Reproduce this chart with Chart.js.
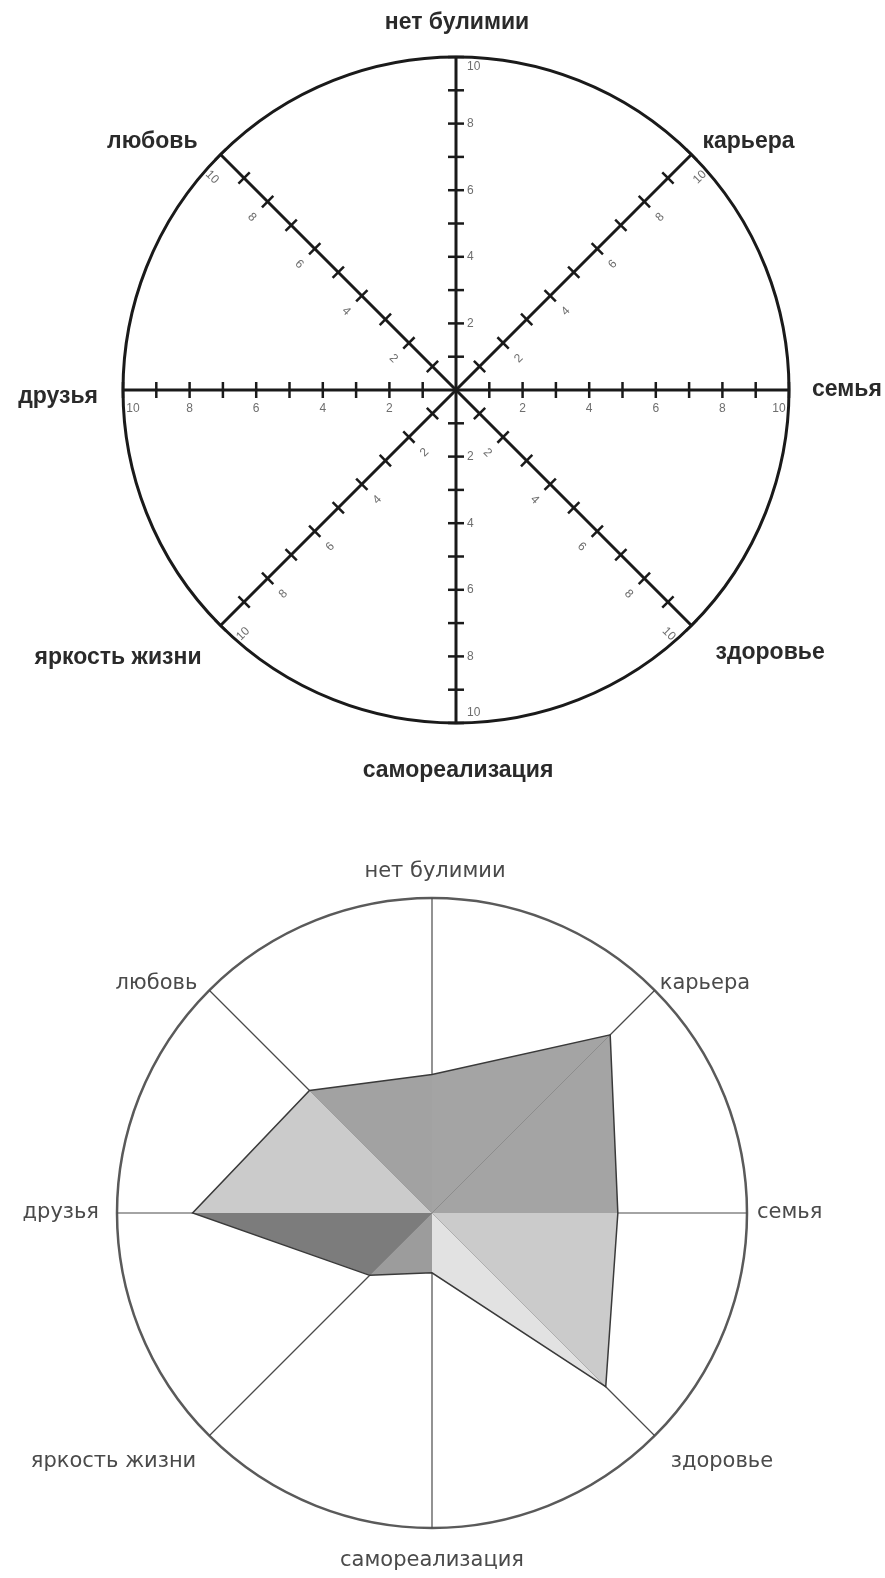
<!DOCTYPE html>
<html lang="ru">
<head>
<meta charset="utf-8">
<title>Колесо жизненного баланса</title>
<script src="https://cdn.jsdelivr.net/npm/chart.js@4.4.1/dist/chart.umd.min.js"></script>
<style>
  html, body { margin: 0; padding: 0; background: #fff; }
  body { width: 885px; height: 1578px; position: relative; overflow: hidden; }
  canvas { position: absolute; left: 0; }
  #koleso { top: 0; }
  #otsenka { top: 790px; }
</style>
</head>
<body>
<canvas id="koleso" width="885" height="790"></canvas>
<canvas id="otsenka" width="885" height="788"></canvas>
<script>
// сферы по часовой стрелке, начиная сверху
const sfery = ["нет булимии", "карьера", "семья", "здоровье", "самореализация", "яркость жизни", "друзья", "любовь"];

// шкала 0..10
const shkalaMin = 0;
const shkalaMax = 10;
const shtrikhi = [1, 2, 3, 4, 5, 6, 7, 8, 9, 10];
const podpisiShkaly = [2, 4, 6, 8, 10];

// оценки для нижнего колеса
const otsenki = [4.4, 8, 5.9, 7.8, 1.9, 2.8, 7.6, 5.5];

document.addEventListener("DOMContentLoaded", function () {
  const canvasKoleso = document.getElementById("koleso");
  const canvasOtsenka = document.getElementById("otsenka");

  if (!canvasKoleso || !canvasOtsenka) {
    return;
  }

  if (typeof Chart === "undefined") {
    console.error("Chart.js не загрузился.");
    return;
  }

  // цвета секторов: от оси i до оси i+1
  const tsvetaSektorov = ["#a4a4a4", "#a4a4a4", "#cbcbcb", "#e2e2e2", "#9c9c9c", "#7c7c7c", "#cbcbcb", "#a2a2a2"];

  const podpisiSfer = {
    id: "podpisiSfer",
    afterDraw(chart, args, opts) {
      const scale = chart.scales.r;
      const ctx = chart.ctx;
      ctx.save();
      ctx.font = opts.font;
      ctx.fillStyle = opts.color;
      ctx.textBaseline = "middle";
      chart.data.labels.forEach((text, i) => {
        const kray = scale.getPointPosition(i, scale.drawingArea);
        const sdvig = opts.sdvig[i];
        const cos = Math.cos(scale.getIndexAngle(i) - Math.PI / 2);
        ctx.textAlign = cos > 0.1 ? "left" : cos < -0.1 ? "right" : "center";
        ctx.fillText(text, kray.x + sdvig[0], kray.y + sdvig[1]);
      });
      ctx.restore();
    }
  };

  const shtrikhiOsey = {
    id: "shtrikhiOsey",
    afterDraw(chart, args, opts) {
      const scale = chart.scales.r;
      const ctx = chart.ctx;
      ctx.save();
      chart.data.labels.forEach((_, i) => {
        const a = scale.getIndexAngle(i) - Math.PI / 2;
        const dx = Math.cos(a);
        const dy = Math.sin(a);
        const nx = -dy;
        const ny = dx;

        ctx.strokeStyle = opts.color;
        ctx.lineWidth = opts.width;
        opts.marks.forEach(v => {
          const p = scale.getPointPositionForValue(i, v);
          ctx.beginPath();
          ctx.moveTo(p.x - nx * opts.half, p.y - ny * opts.half);
          ctx.lineTo(p.x + nx * opts.half, p.y + ny * opts.half);
          ctx.stroke();
        });

        // подписи: снизу от оси, у вертикальных осей - справа
        let ox = nx;
        let oy = ny;
        if (oy < -0.01 || (Math.abs(oy) < 0.01 && ox < 0)) {
          ox = -ox;
          oy = -oy;
        }
        const vertikal = Math.abs(dx) < 0.01;
        const gorizont = Math.abs(dy) < 0.01;
        const otstup = vertikal ? 11 : gorizont ? 19 : 22;
        const povorot = vertikal ? 0 : Math.atan(dy / dx);

        ctx.font = opts.font;
        ctx.fillStyle = opts.textColor;
        ctx.textBaseline = "middle";
        ctx.textAlign = vertikal ? "left" : "center";
        opts.labels.forEach(v => {
          const p = scale.getPointPositionForValue(i, v);
          const vnutr = v === scale.max ? 10 : 0;
          const x = p.x - dx * vnutr + ox * otstup;
          const y = p.y - dy * vnutr + oy * otstup;
          ctx.save();
          ctx.translate(x, y);
          ctx.rotate(povorot);
          ctx.fillText(String(v), 0, 0);
          ctx.restore();
        });
      });
      ctx.restore();
    }
  };

  new Chart(canvasKoleso, {
    type: "radar",
    data: {
      labels: sfery,
      datasets: []
    },
    options: {
      responsive: false,
      devicePixelRatio: 1,
      animation: false,
      events: [],
      layout: { padding: { left: 123, right: 96, top: 57, bottom: 67 } },
      scales: {
        r: {
          min: shkalaMin,
          max: shkalaMax,
          ticks: { display: false, stepSize: 1 },
          pointLabels: { display: false },
          grid: {
            circular: true,
            color: c => (c.tick && c.tick.value === shkalaMax ? "#1a1a1a" : "rgba(0,0,0,0)"),
            lineWidth: 3
          },
          angleLines: { color: "#1a1a1a", lineWidth: 3 }
        }
      },
      plugins: {
        legend: { display: false },
        tooltip: { enabled: false },
        shtrikhiOsey: {
          marks: shtrikhi,
          labels: podpisiShkaly,
          color: "#1a1a1a",
          width: 2.5,
          half: 8,
          font: "12px 'Liberation Sans', Arial, sans-serif",
          textColor: "#6e6e6e"
        },
        podpisiSfer: {
          font: "bold 23px 'Liberation Sans', Arial, sans-serif",
          color: "#2a2a2a",
          sdvig: [[1, -34], [11, -13], [23, 0], [24, 27], [2, 48], [-19, 32], [-25, 7], [-23, -13]]
        }
      }
    },
    plugins: [shtrikhiOsey, podpisiSfer]
  });

  const n = otsenki.length;
  const sektory = otsenki.map((_, k) => ({
    data: otsenki.map((v, i) => (i === k || i === (k + 1) % n ? v : 0)),
    backgroundColor: tsvetaSektorov[k],
    borderColor: "rgba(0,0,0,0)",
    borderWidth: 0,
    fill: "origin",
    pointRadius: 0
  }));

  new Chart(canvasOtsenka, {
    type: "radar",
    data: {
      labels: sfery,
      datasets: [
        {
          data: otsenki,
          borderColor: "#3a3a3a",
          borderWidth: 1.5,
          backgroundColor: "rgba(0,0,0,0)",
          fill: false,
          pointRadius: 0
        }
      ].concat(sektory)
    },
    options: {
      responsive: false,
      devicePixelRatio: 1,
      animation: false,
      events: [],
      elements: { line: { tension: 0 } },
      layout: { padding: { left: 117, right: 138, top: 108, bottom: 50 } },
      scales: {
        r: {
          min: shkalaMin,
          max: shkalaMax,
          z: 1,
          ticks: { display: false, stepSize: 1 },
          pointLabels: { display: false },
          grid: {
            circular: true,
            color: c => (c.tick && c.tick.value === shkalaMax ? "#5a5a5a" : "rgba(0,0,0,0)"),
            lineWidth: 2.5
          },
          angleLines: { color: "#4a4a4a", lineWidth: 1.2 }
        }
      },
      plugins: {
        legend: { display: false },
        tooltip: { enabled: false },
        podpisiSfer: {
          font: "21px 'DejaVu Sans', sans-serif",
          color: "#4a4a4a",
          sdvig: [[3, -26], [5, -7], [10, 0], [16, 26], [0, 33], [-13, 26], [-18, 0], [-12, -7]]
        }
      }
    },
    plugins: [podpisiSfer]
  });
});
</script>
</body>
</html>
